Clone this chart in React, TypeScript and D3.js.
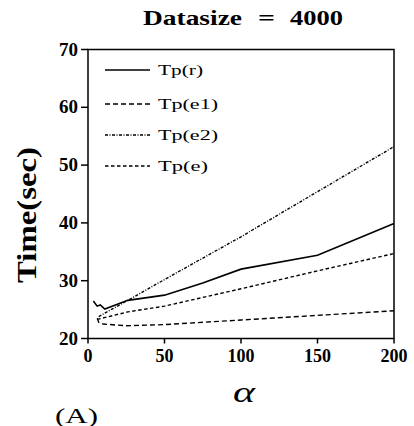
import React from "react";
import * as d3 from "d3";

const alphaR = [3.5, 6, 8, 11, 26, 50, 75, 100, 150, 200];
const tpR = [26.5, 25.6, 25.8, 25.1, 26.6, 27.5, 29.6, 32.0, 34.4, 39.9];

const alphaE1 = [6, 7, 10, 25, 50, 100, 150, 200];
const tpE1 = [23.5, 22.8, 22.5, 22.2, 22.4, 23.2, 24.0, 24.8];

const alphaE2 = [7, 26, 50, 100, 150, 200];
const tpE2 = [23.8, 26.6, 30.2, 37.6, 45.4, 53.2];

const alphaE = [6, 26, 50, 100, 150, 200];
const tpE = [23.3, 24.6, 25.6, 28.6, 31.7, 34.7];

const xTicks = [0, 50, 100, 150, 200];
const yTicks = [20, 30, 40, 50, 60, 70];

const seriesNames = ["Tp(r)", "Tp(e1)", "Tp(e2)", "Tp(e)"];
const dashes = ["", "5,3", "3,1.5,1,1.5", "3.5,2.5"];
const legendWidths = [45, 60, 60, 50];

const FONT = "Liberation Serif, Times New Roman, Times, serif";

export default function App() {
  const x = d3.scaleLinear().domain([0, 200]).range([88, 394]);
  const y = d3.scaleLinear().domain([20, 70]).range([338.5, 49.5]);
  const line = d3
    .line<[number, number]>()
    .x((d) => x(d[0]))
    .y((d) => y(d[1]));

  const series: [number, number][][] = [
    alphaR.map((a, i) => [a, tpR[i]]),
    alphaE1.map((a, i) => [a, tpE1[i]]),
    alphaE2.map((a, i) => [a, tpE2[i]]),
    alphaE.map((a, i) => [a, tpE[i]]),
  ];

  const legendY = [70, 104, 135, 166];

  return (
    <svg
      width={414}
      height={426}
      style={{ position: "absolute", left: 0, top: 0, background: "#fff", fontFamily: FONT }}
    >
      <rect x={0} y={0} width={414} height={426} fill="#fff" />
      {/* title */}
      <text x={143} y={25} fontSize={21} fontWeight="bold" textLength={99} lengthAdjust="spacingAndGlyphs">
        Datasize
      </text>
      <text x={258} y={25} fontSize={21} fontWeight="bold" textLength={17} lengthAdjust="spacingAndGlyphs">
        =
      </text>
      <text x={290} y={25} fontSize={21} fontWeight="bold" textLength={53} lengthAdjust="spacingAndGlyphs">
        4000
      </text>

      {/* frame */}
      <rect
        x={x(0)}
        y={y(70)}
        width={x(200) - x(0)}
        height={y(20) - y(70)}
        fill="none"
        stroke="#000"
        strokeWidth={1.5}
      />

      {/* y ticks */}
      {yTicks.map((t) => (
        <g key={"y" + t}>
          <line x1={x(0) - 7} x2={x(0)} y1={y(t)} y2={y(t)} stroke="#000" strokeWidth={1.5} />
          <text x={78} y={y(t) + 6} fontSize={18} fontWeight="bold" textAnchor="end" textLength={19} lengthAdjust="spacingAndGlyphs">
            {t}
          </text>
        </g>
      ))}

      {/* x ticks */}
      {xTicks.map((t) => (
        <g key={"x" + t}>
          <line x1={x(t)} x2={x(t)} y1={y(20)} y2={y(20) + 5} stroke="#000" strokeWidth={1.5} />
          <text x={x(t)} y={362} fontSize={18} fontWeight="bold" textAnchor="middle">
            {t}
          </text>
        </g>
      ))}

      {/* series */}
      {series.map((s, i) => (
        <path
          key={"s" + i}
          d={line(s) || ""}
          fill="none"
          stroke="#000"
          strokeWidth={i === 0 ? 1.6 : 1.4}
          strokeDasharray={dashes[i] || undefined}
        />
      ))}

      {/* legend */}
      {seriesNames.map((n, i) => (
        <g key={"l" + i}>
          <line
            x1={105}
            x2={150}
            y1={legendY[i]}
            y2={legendY[i]}
            stroke="#000"
            strokeWidth={i === 0 ? 1.6 : 1.4}
            strokeDasharray={dashes[i] || undefined}
          />
          <text
            x={158}
            y={legendY[i] + 5}
            fontSize={15}
            textLength={legendWidths[i]}
            lengthAdjust="spacingAndGlyphs"
          >
            {n}
          </text>
        </g>
      ))}

      {/* axis titles */}
      <text
        transform="translate(36,215) rotate(-90)"
        fontSize={28}
        fontWeight="bold"
        textAnchor="middle"
        textLength={136}
        lengthAdjust="spacingAndGlyphs"
      >
        Time(sec)
      </text>
      <text x={233} y={402} fontSize={30} fontStyle="italic" textLength={22} lengthAdjust="spacingAndGlyphs">
        α
      </text>
      <text x={55} y={423} fontSize={20} textLength={43} lengthAdjust="spacingAndGlyphs">
        (A)
      </text>
    </svg>
  );
}
